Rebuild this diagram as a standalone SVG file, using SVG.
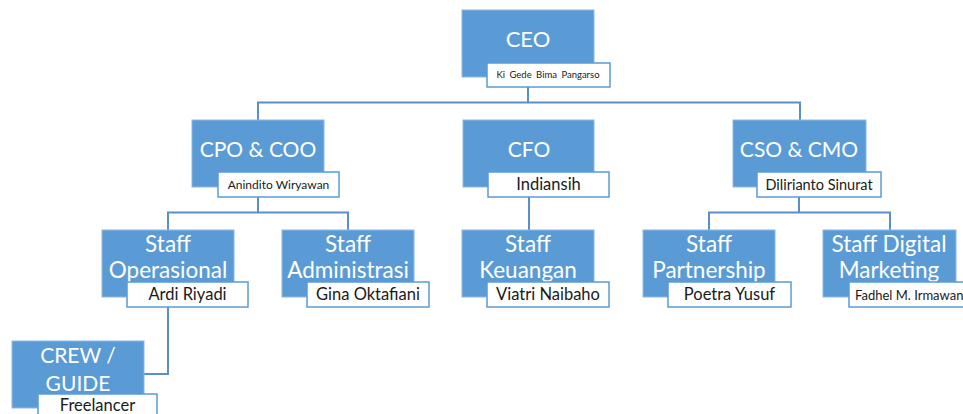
<svg xmlns="http://www.w3.org/2000/svg" width="963" height="414" viewBox="0 0 963 414">
<style>
.box{fill:#5B9BD5;stroke:#8CB8E4;stroke-width:1}
.nm{fill:#FFFFFF;stroke:#5B9BD5;stroke-width:1.5}
.t{font-family:Lato,"Open Sans","Liberation Sans",sans-serif;fill:#FFFFFF;text-anchor:middle}
.s{font-size:22.5px}
.n{font-family:Lato,"Open Sans","Liberation Sans",sans-serif;fill:#1A1A1A;text-anchor:middle}
.nb{font-size:16.5px}
.c{fill:none;stroke:#5A8FCB;stroke-width:2}
</style>
<rect width="963" height="414" fill="#FFFFFF"/>
<g id="connectors">
<path class="c" d="M528 87V102.5M258 120V102.5H800V120"/>
<path class="c" d="M258 197V212.5M168 230V212.5H348V230"/>
<path class="c" d="M529 197V230"/>
<path class="c" d="M799 197V212.5M709 230V212.5H890V230"/>
<path class="c" d="M168 307V374H144"/>
</g>
<g id="ceo">
<rect class="box" x="462" y="10" width="132" height="67"/>
<text class="t" x="528" y="47" font-size="22">CEO</text>
<rect class="nm" x="487" y="63" width="123" height="24"/>
<text class="n" x="548" y="78" font-size="9.5" word-spacing="2">Ki Gede Bima Pangarso</text>
</g>
<g id="cpo">
<rect class="box" x="192" y="120" width="132" height="67"/>
<text class="t" x="258" y="157" font-size="21">CPO &amp; COO</text>
<rect class="nm" x="218" y="172" width="121" height="25"/>
<text class="n" x="278.5" y="189" font-size="12">Anindito Wiryawan</text>
</g>
<g id="cfo">
<rect class="box" x="463" y="120" width="131" height="67"/>
<text class="t" x="529" y="157" font-size="21">CFO</text>
<rect class="nm" x="488" y="172" width="121" height="25"/>
<text class="n nb" x="548.5" y="190">Indiansih</text>
</g>
<g id="cso">
<rect class="box" x="733" y="120" width="133" height="67"/>
<text class="t" x="799" y="157" font-size="21">CSO &amp; CMO</text>
<rect class="nm" x="757" y="172" width="124" height="25"/>
<text class="n" x="819" y="189.5" font-size="14.5">Dilirianto Sinurat</text>
</g>
<g id="staff-operasional">
<rect class="box" x="102" y="230" width="132" height="67"/>
<text class="t s" x="168" y="252">Staff</text>
<text class="t s" x="168" y="278">Operasional</text>
<rect class="nm" x="127" y="282" width="121" height="25"/>
<text class="n nb" x="187.5" y="300">Ardi Riyadi</text>
</g>
<g id="staff-administrasi">
<rect class="box" x="282" y="230" width="132" height="67"/>
<text class="t s" x="348" y="252">Staff</text>
<text class="t s" x="348" y="278">Administrasi</text>
<rect class="nm" x="307" y="282" width="122" height="25"/>
<text class="n nb" x="368" y="300">Gina Oktafiani</text>
</g>
<g id="staff-keuangan">
<rect class="box" x="462" y="230" width="132" height="67"/>
<text class="t s" x="528" y="252">Staff</text>
<text class="t s" x="528" y="278">Keuangan</text>
<rect class="nm" x="487" y="282" width="122" height="25"/>
<text class="n nb" x="548" y="300">Viatri Naibaho</text>
</g>
<g id="staff-partnership">
<rect class="box" x="643" y="230" width="132" height="67"/>
<text class="t s" x="709" y="252">Staff</text>
<text class="t s" x="709" y="278">Partnership</text>
<rect class="nm" x="668" y="282" width="123" height="25"/>
<text class="n nb" x="729.5" y="300">Poetra Yusuf</text>
</g>
<g id="staff-digital-marketing">
<rect class="box" x="823" y="230" width="133" height="67"/>
<text class="t s" x="889" y="252">Staff Digital</text>
<text class="t s" x="889" y="278">Marketing</text>
<rect class="nm" x="849" y="282" width="124" height="25"/>
<text class="n" x="855" y="299.5" font-size="13" style="text-anchor:start">Fadhel M. Irmawan</text>
</g>
<g id="crew-guide">
<rect class="box" x="12" y="341" width="132" height="67"/>
<text class="t" x="78" y="363" font-size="21">CREW /</text>
<text class="t" x="78" y="391" font-size="21">GUIDE</text>
<rect class="nm" x="38" y="394" width="119" height="25"/>
<text class="n nb" x="97.5" y="411">Freelancer</text>
</g>
</svg>
